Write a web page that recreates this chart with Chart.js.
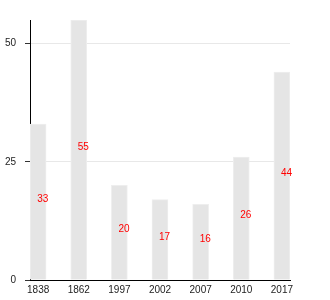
<!DOCTYPE html>
<html>
<head>
<meta charset="utf-8">
<script src="https://cdn.jsdelivr.net/npm/chart.js@4"></script>
<style>
    body { margin: 0; background: #fff; }
    #wrap { width: 330px; height: 300px; }
</style>
</head>
<body>
<div id="wrap"><canvas id="chart" width="330" height="300"></canvas></div>
<script>
const years = ["1838", "1862", "1997", "2002", "2007", "2010", "2017"];
const values = [33, 55, 20, 17, 16, 26, 44];
const yTicks = [0, 25, 50];

// red numbers in the middle of each bar
const barLabels = {
    id: 'barLabels',
    afterDatasetsDraw(chart) {
        const ctx = chart.ctx;
        const meta = chart.getDatasetMeta(0);
        ctx.save();
        ctx.font = '10px "Liberation Sans", Arial, sans-serif';
        ctx.fillStyle = '#ff0000';
        ctx.textAlign = 'left';
        ctx.textBaseline = 'alphabetic';
        meta.data.forEach((bar, i) => {
            const mid = (bar.y + bar.base) / 2;
            ctx.fillText(String(values[i]), bar.x - 1, mid);
        });
        ctx.restore();
    }
};

new Chart(document.getElementById("chart"), {
    type: 'bar',
    data: {
        datasets: [{
            data: values.map((v, i) => ({ x: i, y: v })),
            backgroundColor: '#e5e5e5',
            borderColor: '#eeeeee',
            borderWidth: 1,
            barThickness: 16
        }]
    },
    options: {
        responsive: false,
        animation: false,
        layout: { padding: { left: 5, right: 40, top: 20, bottom: 4 } },
        plugins: {
            legend: { display: false },
            tooltip: { enabled: false }
        },
        scales: {
            x: {
                type: 'linear',
                min: -0.2,
                max: 6.2,
                offset: false,
                afterBuildTicks: s => { s.ticks = years.map((y, i) => ({ value: i })); },
                afterFit: s => { s.height = 16; s.paddingLeft = 0; s.paddingRight = 0; },
                ticks: {
                    padding: 4,
                    color: '#222',
                    font: { family: '"Liberation Sans", Arial, sans-serif', size: 10 },
                    callback: v => years[v]
                },
                grid: { display: false, drawTicks: false },
                border: { display: true, color: '#000', width: 1 }
            },
            y: {
                min: 0,
                max: 55,
                afterBuildTicks: s => { s.ticks = yTicks.map(v => ({ value: v })); },
                afterFit: s => { s.width = 25; s.paddingTop = 0; s.paddingBottom = 0; },
                ticks: {
                    padding: 9,
                    color: '#222',
                    font: { family: '"Liberation Sans", Arial, sans-serif', size: 10 }
                },
                grid: { color: '#e8e8e8', tickColor: '#333', tickLength: 5 },
                border: { display: true, color: '#000', width: 1 }
            }
        }
    },
    plugins: [barLabels]
});
</script>
</body>
</html>
